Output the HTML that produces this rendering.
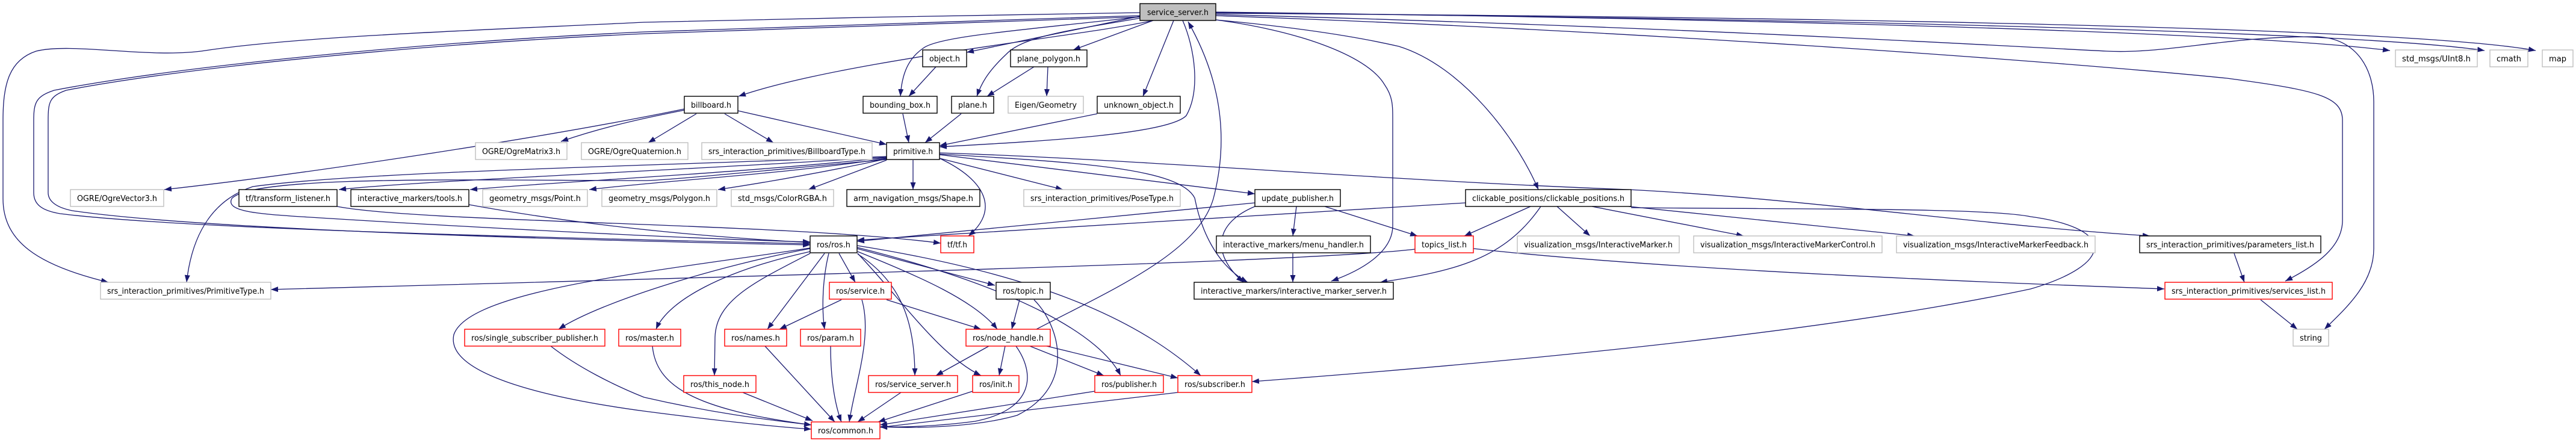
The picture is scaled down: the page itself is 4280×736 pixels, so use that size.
<!DOCTYPE html>
<html><head><meta charset="utf-8"><style>
html,body{margin:0;padding:0;background:#fff}
svg{display:block}
text{font-family:"DejaVu Sans","Liberation Sans",sans-serif;font-size:13px;fill:#000}
.e{fill:none;stroke:#191970;stroke-width:1.3}
.b{fill:#fff;stroke:#000;stroke-width:1.4}
.g{fill:#fff;stroke:#bfbfbf;stroke-width:1.4}
.r{fill:#fff;stroke:#ff0000;stroke-width:1.4}
</style></head><body>
<svg width="4280" height="736" viewBox="0 0 4280 736" xmlns="http://www.w3.org/2000/svg">
<defs><marker id="a" markerWidth="12" markerHeight="9" refX="12" refY="4.5" orient="auto" markerUnits="userSpaceOnUse"><path d="M0,0L12,4.5L0,9z" fill="#191970"/></marker></defs>
<g class="e" marker-end="url(#a)">
<path d="M1916,34 C1800,60 1400,100 1227,160"/>
<path d="M1894,27 L1606,87"/>
<path d="M1894,28 C1700,50 1560,60 1534,80 C1505,100 1498,130 1496,160"/>
<path d="M1895,30 C1780,50 1700,60 1672,90 C1640,120 1630,140 1623,160"/>
<path d="M1916,34 L1783,83"/>
<path d="M1950,34 L1899,160"/>
<path d="M1965,34 C1985,80 1995,150 1971,192 C1940,225 1700,236 1561,244"/>
<path d="M1722,547 C1850,480 1990,420 2016,330 C2050,200 2010,100 1974,36"/>
<path d="M1894,21 C1700,25 1300,30 1070,37 C800,50 500,60 341,84 C250,98 120,70 60,85 C15,100 5,140 5,200 L5,330 C5,400 60,440 180,469"/>
<path d="M1894,26 C1600,35 1300,45 1070,53 C700,70 300,110 90,150 C60,160 56,170 56,200 L56,320 C56,340 70,350 100,355 C300,380 900,395 1346,405"/>
<path d="M1894,28 C1600,38 1300,48 1070,56 C700,73 300,113 110,150 C82,160 80,170 80,200 L80,320 C80,335 95,345 120,350 C320,380 900,398 1346,407"/>
<path d="M2020,33 C2150,45 2250,60 2324,77 C2430,110 2520,230 2556,315"/>
<path d="M2020,33 C2150,50 2270,90 2300,140 C2314,160 2314,174 2314,200 L2314,375 C2314,420 2260,450 2212,467"/>
<path d="M2020,20 C2800,30 3700,50 3971,84"/>
<path d="M2020,21 C2900,30 3900,50 4128,84"/>
<path d="M2020,22 C3000,28 4000,45 4213,84"/>
<path d="M2020,26 C2700,50 3400,100 3700,130 C3850,150 3892,160 3892,200 L3892,366 C3892,410 3850,440 3797,467"/>
<path d="M2020,24 C2800,45 3300,75 3500,85 C3600,90 3700,60 3851,61 C3920,65 3944,120 3944,169 L3944,413 C3944,470 3900,510 3862,547"/>
<path d="M1555,111 L1510,160"/>
<path d="M1718,111 L1640,160"/>
<path d="M1741,111 L1739,160"/>
<path d="M1500,189 L1510,237"/>
<path d="M1597,189 L1537,237"/>
<path d="M1823,189 L1561,242"/>
<path d="M1137,181 C900,230 500,290 273,315"/>
<path d="M1137,183 C1050,200 990,215 932,235"/>
<path d="M1157,189 L1077,237"/>
<path d="M1204,189 L1285,237"/>
<path d="M1226,184 L1473,240"/>
<path d="M1473,266 L1343,315"/>
<path d="M1473,264 C1350,290 1260,305 1193,315"/>
<path d="M1473,263 C1300,290 1100,300 979,315"/>
<path d="M1473,262 C1200,290 950,300 781,315"/>
<path d="M1473,261 C1100,285 700,300 563,315"/>
<path d="M1473,260 C1100,275 600,285 420,310 C360,330 320,380 310,469"/>
<path d="M1473,265 C1200,290 1100,300 1070,300 C800,300 420,290 385,330 C375,350 420,355 500,360 C900,385 1200,398 1346,402"/>
<path d="M1517,266 L1517,315"/>
<path d="M1561,263 L1766,315"/>
<path d="M1561,263 C1640,300 1660,350 1609,392"/>
<path d="M1561,257 L2085,322"/>
<path d="M1561,256 C1800,270 1960,280 1985,329 C1995,380 2020,440 2073,469"/>
<path d="M1561,254 C1900,265 2300,300 2706,315 C3000,330 3300,375 3572,392"/>
<path d="M2085,337 L1424,401"/>
<path d="M2154,343 L2148,392"/>
<path d="M2085,343 C2020,370 2010,420 2066,469"/>
<path d="M2201,343 L2355,392"/>
<path d="M2435,337 C2200,354 1800,375 1424,399"/>
<path d="M2543,343 L2433,392"/>
<path d="M2560,343 C2500,430 2420,450 2293,469"/>
<path d="M2587,343 L2642,392"/>
<path d="M2645,343 L2897,392"/>
<path d="M2706,343 L3181,392"/>
<path d="M2710,345 C3000,348 3300,345 3374,360 C3520,380 3510,440 3374,480 C3000,560 2400,610 2080,634"/>
<path d="M2148,421 L2148,469"/>
<path d="M2448,413 C2600,430 2900,455 3596,480"/>
<path d="M2351,414 C2200,432 1600,450 450,481"/>
<path d="M3712,421 L3729,469"/>
<path d="M3756,498 L3817,547"/>
<path d="M560,343 C700,370 1300,370 1563,404"/>
<path d="M779,340 C1000,380 1200,395 1346,403"/>
<path d="M1346,413 C1200,440 1000,500 928,547"/>
<path d="M1346,418 C1200,450 1110,500 1090,547"/>
<path d="M1346,421 C1250,470 1190,500 1188,560 L1187,624"/>
<path d="M1370,421 L1275,547"/>
<path d="M1377,421 C1365,470 1366,520 1370,547"/>
<path d="M1394,421 L1421,469"/>
<path d="M1425,422 C1500,470 1520,540 1520,624"/>
<path d="M1425,421 C1500,500 1560,590 1630,624"/>
<path d="M1425,418 C1530,460 1620,500 1657,547"/>
<path d="M1424,413 L1653,474"/>
<path d="M1424,411 C1700,480 1830,560 1862,624"/>
<path d="M1424,408 C1750,460 1900,540 1995,624"/>
<path d="M1346,412 C1100,450 780,480 754,556 C740,620 900,660 1070,683 C1200,700 1300,710 1348,713"/>
<path d="M1398,498 L1295,547"/>
<path d="M1432,498 C1450,560 1420,640 1411,701"/>
<path d="M1473,498 L1630,547"/>
<path d="M1694,498 L1681,547"/>
<path d="M1718,498 C1760,540 1790,640 1690,690 C1620,710 1520,712 1462,709"/>
<path d="M1271,575 L1387,701"/>
<path d="M1380,575 C1380,640 1390,680 1398,701"/>
<path d="M1084,575 C1090,640 1150,680 1348,706"/>
<path d="M915,575 C960,610 1020,640 1070,660 C1200,690 1300,700 1348,706"/>
<path d="M1234,652 L1350,699"/>
<path d="M1643,575 L1555,624"/>
<path d="M1670,575 L1660,624"/>
<path d="M1688,575 C1720,620 1720,680 1620,700 C1560,708 1500,710 1462,709"/>
<path d="M1711,575 L1834,624"/>
<path d="M1739,575 L1957,628"/>
<path d="M1497,652 L1425,701"/>
<path d="M1616,650 L1459,701"/>
<path d="M1819,650 L1462,706"/>
<path d="M1957,652 L1462,710"/>
</g>
<g>
<rect x="1894" y="6" width="126" height="28" fill="#bfbfbf" stroke="#000" stroke-width="1.4"/><text x="1957" y="25" text-anchor="middle" textLength="102" lengthAdjust="spacingAndGlyphs">service_server.h</text>
<rect class="b" x="1533" y="83" width="73" height="28"/><text x="1569.5" y="102" text-anchor="middle" textLength="51" lengthAdjust="spacingAndGlyphs">object.h</text>
<rect class="b" x="1679" y="83" width="127" height="28"/><text x="1742.5" y="102" text-anchor="middle" textLength="105" lengthAdjust="spacingAndGlyphs">plane_polygon.h</text>
<rect class="g" x="3980" y="83" width="136" height="28"/><text x="4048" y="102" text-anchor="middle" textLength="114" lengthAdjust="spacingAndGlyphs">std_msgs/UInt8.h</text>
<rect class="g" x="4137" y="83" width="63" height="28"/><text x="4168.5" y="102" text-anchor="middle" textLength="41" lengthAdjust="spacingAndGlyphs">cmath</text>
<rect class="g" x="4224" y="83" width="51" height="28"/><text x="4249.5" y="102" text-anchor="middle" textLength="29" lengthAdjust="spacingAndGlyphs">map</text>
<rect class="b" x="1137" y="160" width="89" height="28"/><text x="1181.5" y="179" text-anchor="middle" textLength="67" lengthAdjust="spacingAndGlyphs">billboard.h</text>
<rect class="b" x="1434" y="160" width="123" height="28"/><text x="1495.5" y="179" text-anchor="middle" textLength="101" lengthAdjust="spacingAndGlyphs">bounding_box.h</text>
<rect class="b" x="1581" y="160" width="70" height="28"/><text x="1616" y="179" text-anchor="middle" textLength="48" lengthAdjust="spacingAndGlyphs">plane.h</text>
<rect class="g" x="1675" y="160" width="125" height="28"/><text x="1737.5" y="179" text-anchor="middle" textLength="103" lengthAdjust="spacingAndGlyphs">Eigen/Geometry</text>
<rect class="b" x="1823" y="160" width="138" height="28"/><text x="1892" y="179" text-anchor="middle" textLength="116" lengthAdjust="spacingAndGlyphs">unknown_object.h</text>
<rect class="g" x="790" y="237" width="152" height="28"/><text x="866" y="256" text-anchor="middle" textLength="130" lengthAdjust="spacingAndGlyphs">OGRE/OgreMatrix3.h</text>
<rect class="g" x="966" y="237" width="177" height="28"/><text x="1054.5" y="256" text-anchor="middle" textLength="155" lengthAdjust="spacingAndGlyphs">OGRE/OgreQuaternion.h</text>
<rect class="g" x="1166" y="237" width="283" height="28"/><text x="1307.5" y="256" text-anchor="middle" textLength="261" lengthAdjust="spacingAndGlyphs">srs_interaction_primitives/BillboardType.h</text>
<rect class="b" x="1473" y="237" width="88" height="28"/><text x="1517" y="256" text-anchor="middle" textLength="66" lengthAdjust="spacingAndGlyphs">primitive.h</text>
<rect class="g" x="117" y="315" width="155" height="28"/><text x="194.5" y="334" text-anchor="middle" textLength="133" lengthAdjust="spacingAndGlyphs">OGRE/OgreVector3.h</text>
<rect class="b" x="397" y="315" width="163" height="28"/><text x="478.5" y="334" text-anchor="middle" textLength="141" lengthAdjust="spacingAndGlyphs">tf/transform_listener.h</text>
<rect class="b" x="583" y="315" width="196" height="28"/><text x="681" y="334" text-anchor="middle" textLength="174" lengthAdjust="spacingAndGlyphs">interactive_markers/tools.h</text>
<rect class="g" x="802" y="315" width="174" height="28"/><text x="889" y="334" text-anchor="middle" textLength="152" lengthAdjust="spacingAndGlyphs">geometry_msgs/Point.h</text>
<rect class="g" x="1000" y="315" width="191" height="28"/><text x="1095.5" y="334" text-anchor="middle" textLength="169" lengthAdjust="spacingAndGlyphs">geometry_msgs/Polygon.h</text>
<rect class="g" x="1215" y="315" width="170" height="28"/><text x="1300" y="334" text-anchor="middle" textLength="148" lengthAdjust="spacingAndGlyphs">std_msgs/ColorRGBA.h</text>
<rect class="b" x="1407" y="315" width="221" height="28"/><text x="1517.5" y="334" text-anchor="middle" textLength="199" lengthAdjust="spacingAndGlyphs">arm_navigation_msgs/Shape.h</text>
<rect class="g" x="1701" y="315" width="260" height="28"/><text x="1831" y="334" text-anchor="middle" textLength="238" lengthAdjust="spacingAndGlyphs">srs_interaction_primitives/PoseType.h</text>
<rect class="b" x="2085" y="315" width="142" height="28"/><text x="2156" y="334" text-anchor="middle" textLength="120" lengthAdjust="spacingAndGlyphs">update_publisher.h</text>
<rect class="b" x="2435" y="315" width="275" height="28"/><text x="2572.5" y="334" text-anchor="middle" textLength="253" lengthAdjust="spacingAndGlyphs">clickable_positions/clickable_positions.h</text>
<rect class="b" x="1346" y="392" width="78" height="28"/><text x="1385" y="411" text-anchor="middle" textLength="56" lengthAdjust="spacingAndGlyphs">ros/ros.h</text>
<rect class="r" x="1563" y="392" width="55" height="28"/><text x="1590.5" y="411" text-anchor="middle" textLength="33" lengthAdjust="spacingAndGlyphs">tf/tf.h</text>
<rect class="b" x="2021" y="392" width="256" height="28"/><text x="2149" y="411" text-anchor="middle" textLength="234" lengthAdjust="spacingAndGlyphs">interactive_markers/menu_handler.h</text>
<rect class="r" x="2351" y="392" width="97" height="28"/><text x="2399.5" y="411" text-anchor="middle" textLength="75" lengthAdjust="spacingAndGlyphs">topics_list.h</text>
<rect class="g" x="2521" y="392" width="269" height="28"/><text x="2655.5" y="411" text-anchor="middle" textLength="247" lengthAdjust="spacingAndGlyphs">visualization_msgs/InteractiveMarker.h</text>
<rect class="g" x="2814" y="392" width="313" height="28"/><text x="2970.5" y="411" text-anchor="middle" textLength="291" lengthAdjust="spacingAndGlyphs">visualization_msgs/InteractiveMarkerControl.h</text>
<rect class="g" x="3151" y="392" width="330" height="28"/><text x="3316" y="411" text-anchor="middle" textLength="308" lengthAdjust="spacingAndGlyphs">visualization_msgs/InteractiveMarkerFeedback.h</text>
<rect class="b" x="3555" y="392" width="301" height="28"/><text x="3705.5" y="411" text-anchor="middle" textLength="279" lengthAdjust="spacingAndGlyphs">srs_interaction_primitives/parameters_list.h</text>
<rect class="g" x="167" y="469" width="283" height="28"/><text x="308.5" y="488" text-anchor="middle" textLength="261" lengthAdjust="spacingAndGlyphs">srs_interaction_primitives/PrimitiveType.h</text>
<rect class="r" x="1378" y="469" width="103" height="28"/><text x="1429.5" y="488" text-anchor="middle" textLength="81" lengthAdjust="spacingAndGlyphs">ros/service.h</text>
<rect class="b" x="1655" y="469" width="90" height="28"/><text x="1700" y="488" text-anchor="middle" textLength="68" lengthAdjust="spacingAndGlyphs">ros/topic.h</text>
<rect class="b" x="1984" y="469" width="331" height="28"/><text x="2149.5" y="488" text-anchor="middle" textLength="309" lengthAdjust="spacingAndGlyphs">interactive_markers/interactive_marker_server.h</text>
<rect class="r" x="3597" y="469" width="278" height="28"/><text x="3736" y="488" text-anchor="middle" textLength="256" lengthAdjust="spacingAndGlyphs">srs_interaction_primitives/services_list.h</text>
<rect class="r" x="772" y="547" width="233" height="28"/><text x="888.5" y="566" text-anchor="middle" textLength="211" lengthAdjust="spacingAndGlyphs">ros/single_subscriber_publisher.h</text>
<rect class="r" x="1028" y="547" width="103" height="28"/><text x="1079.5" y="566" text-anchor="middle" textLength="81" lengthAdjust="spacingAndGlyphs">ros/master.h</text>
<rect class="r" x="1204" y="547" width="103" height="28"/><text x="1255.5" y="566" text-anchor="middle" textLength="81" lengthAdjust="spacingAndGlyphs">ros/names.h</text>
<rect class="r" x="1330" y="547" width="100" height="28"/><text x="1380" y="566" text-anchor="middle" textLength="78" lengthAdjust="spacingAndGlyphs">ros/param.h</text>
<rect class="r" x="1605" y="547" width="140" height="28"/><text x="1675" y="566" text-anchor="middle" textLength="118" lengthAdjust="spacingAndGlyphs">ros/node_handle.h</text>
<rect class="g" x="3810" y="547" width="59" height="28"/><text x="3839.5" y="566" text-anchor="middle" textLength="37" lengthAdjust="spacingAndGlyphs">string</text>
<rect class="r" x="1136" y="624" width="120" height="28"/><text x="1196" y="643" text-anchor="middle" textLength="98" lengthAdjust="spacingAndGlyphs">ros/this_node.h</text>
<rect class="r" x="1443" y="624" width="148" height="28"/><text x="1517" y="643" text-anchor="middle" textLength="126" lengthAdjust="spacingAndGlyphs">ros/service_server.h</text>
<rect class="r" x="1616" y="624" width="77" height="28"/><text x="1654.5" y="643" text-anchor="middle" textLength="55" lengthAdjust="spacingAndGlyphs">ros/init.h</text>
<rect class="r" x="1819" y="624" width="114" height="28"/><text x="1876" y="643" text-anchor="middle" textLength="92" lengthAdjust="spacingAndGlyphs">ros/publisher.h</text>
<rect class="r" x="1957" y="624" width="123" height="28"/><text x="2018.5" y="643" text-anchor="middle" textLength="101" lengthAdjust="spacingAndGlyphs">ros/subscriber.h</text>
<rect class="r" x="1348" y="701" width="114" height="28"/><text x="1405" y="720" text-anchor="middle" textLength="92" lengthAdjust="spacingAndGlyphs">ros/common.h</text>
</g>
</svg>
</body></html>
